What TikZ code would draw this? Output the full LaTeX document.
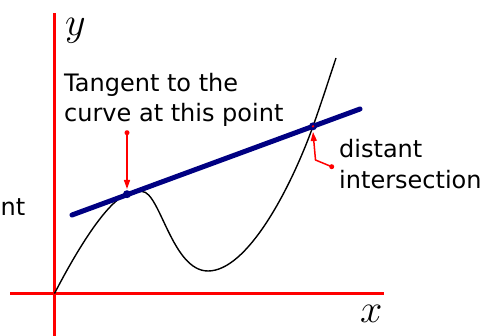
\RequirePackage{fix-cm}
\documentclass[tikz,border=0pt]{standalone}
\usepackage{fontspec}
\setmainfont{DejaVu Sans}
\usetikzlibrary{arrows.meta}
\definecolor{navyline}{RGB}{0,0,130}
\definecolor{axisred}{RGB}{255,0,0}
\tikzset{
  axis/.style={draw=axisred, line width=3pt},
  curve/.style={draw=black, line width=1.4pt},
  tangentline/.style={draw=navyline, line width=5pt, line cap=round},
  pointer/.style={draw=axisred, line width=1.5pt, -{Triangle[length=9pt,width=6pt]}},
  lbl/.style={inner sep=0pt, anchor=base west, font=\fontsize{24}{28}\selectfont, text=black},
  mathlbl/.style={inner sep=0pt, anchor=base west, font=\fontsize{40}{40}\selectfont},
}
\begin{document}
\begin{tikzpicture}[x=1pt,y=-1pt]
\useasboundingbox (0,0) rectangle (486,336);
% axes
\coordinate (ytop) at (54.5,13);
\coordinate (ybot) at (54.5,336);
\coordinate (xleft) at (10,293.5);
\coordinate (xright) at (384,293.5);
\draw[axis] (ybot) -- (ytop);
\draw[axis] (xleft) -- (xright);
\node[mathlbl] (ylab) at (65,36) {$y$};
\node[mathlbl] (xlab) at (360,322) {$x$};
% curve
\coordinate (o) at (54.5,293.5);
\coordinate (tp) at (127,194.2);
\coordinate (mx) at (142,191.5);
\coordinate (mn) at (208,271);
\coordinate (ip) at (313,126.3);
\coordinate (ce) at (336,58);
\draw[curve] (o) .. controls (78,248) and (107,201.6) .. (tp)
  .. controls (133,192) and (137,191.5) .. (mx)
  .. controls (160,191.5) and (172,271) .. (mn)
  .. controls (247,271) and (290,190) .. (ip)
  .. controls (322,101) and (330,76) .. (ce);
% tangent line
\coordinate (l1) at (72,215);
\coordinate (l2) at (360,109);
\draw[tangentline] (l1) -- (l2);
\fill[navyline] (tp) circle (4pt);
\fill[navyline] (ip) circle (4pt);
\fill[axisred] (ip) circle (1.3pt);
% pointers
\coordinate (a1s) at (127,132.7);
\coordinate (a1e) at (127,189);
\fill[axisred] (a1s) circle (2.5pt);
\draw[pointer] (a1s) -- (a1e);
\coordinate (a2s) at (331.7,166.7);
\coordinate (a2m) at (315.5,160);
\coordinate (a2e) at (313,132);
\fill[axisred] (a2s) circle (2.5pt);
\draw[pointer] (a2s) -- (a2m) -- (a2e);
% labels
\node[lbl] (t1) at (64,92) {Tangent to the};
\node[lbl] (t2) at (64,122) {curve at this point};
\node[lbl] (d1) at (339,158) {distant};
\node[lbl] (d2) at (339,188.5) {intersection};
\node[lbl] (nt) at (0.5,215) {nt};
\end{tikzpicture}
\end{document}
